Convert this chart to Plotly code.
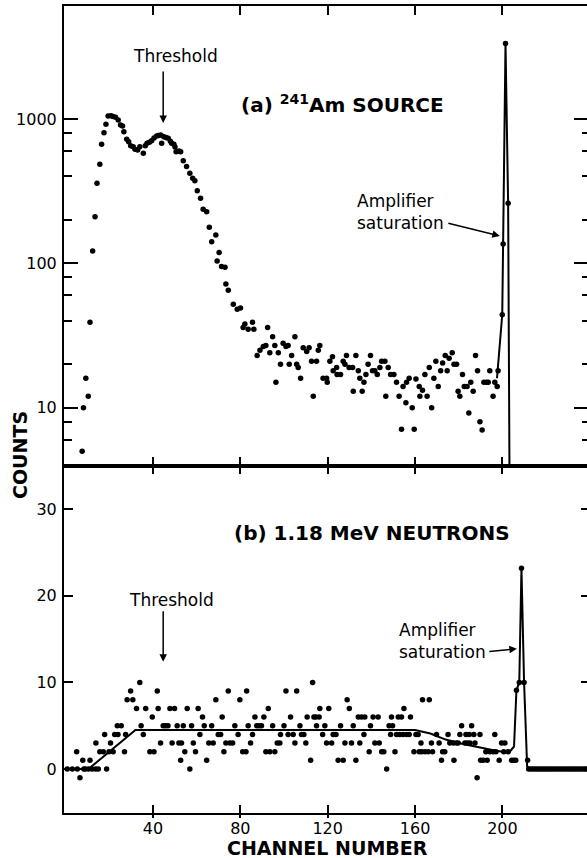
import plotly.graph_objects as go

FONT = "DejaVu Sans"

# ---------------- (a) 241Am source : channel number vs counts (log) ----------------
am_channel = [7.6, 8.2, 9.3, 10.4, 11.2, 12.4, 13.5, 14.4, 15.7, 16.5, 17.6, 18.5, 19.5, 20.8,
              21.8, 22.9, 24.1, 25.2, 26.1, 26.7, 28.0, 28.9, 29.8, 31.0, 31.8, 33.0, 34.0,
              35.6, 36.5, 37.3, 38.4, 39.4, 40.5, 41.7, 42.6, 43.6, 44.0, 45.0, 46.0, 47.0,
              48.0, 48.6, 49.6, 50.1, 50.6, 52.0, 52.7, 53.9, 55.4, 56.9, 58.2, 59.2, 60.3,
              61.8, 63.0, 64.6, 65.8, 66.9, 68.8, 69.4, 70.3, 71.4, 73.0, 73.4, 74.5, 76.8,
              78.6, 80.1, 81.3, 82.1, 83.6, 85.6, 86.2, 87.7, 89.0, 90.5, 91.7, 92.5, 93.5,
              94.8, 95.8, 96.3, 97.4, 98.4, 99.6, 100.9, 101.9, 102.4, 103.5, 105.0, 105.8,
              106.5, 107.6, 108.8, 110.4, 111.5, 112.6, 113.4, 114.9, 115.7, 116.4, 117.9,
              119.5, 119.8, 121.0, 122.2, 122.5, 124.1, 124.3, 125.9, 127.1, 127.9, 128.6,
              129.8, 131.4, 131.7, 132.9, 134.0, 134.7, 135.8, 136.6, 137.5, 138.5, 139.6,
              140.5, 141.6, 142.7, 143.9, 144.7, 146.2, 146.6, 147.7, 148.8, 150.3, 151.5,
              152.7, 153.8, 154.5, 155.8, 156.1, 157.3, 158.7, 159.6, 160.4, 161.9, 162.2,
              163.4, 164.5, 165.5, 166.5, 167.6, 168.6, 169.5, 170.6, 171.7, 172.6, 173.8,
              174.7, 175.6, 177.0, 177.8, 179.0, 179.7, 180.5, 181.7, 182.5, 183.8, 184.6,
              185.5, 186.6, 187.7, 188.6, 189.7, 190.7, 191.5, 192.7, 193.5, 194.2, 195.7,
              196.5, 197.6, 198.0, 199.9, 200.3, 201.4, 202.6]
am_counts = [5, 10, 16, 12, 39, 122, 210, 359, 485, 668, 804, 919, 1050, 1055,
             1040, 1027, 984, 909, 895, 817, 723, 697, 653, 643, 617, 610, 643,
             579, 653, 680, 690, 708, 740, 763, 770, 775, 680, 754, 745, 735,
             700, 680, 668, 640, 594, 600, 594, 514, 468, 421, 388, 374, 318,
             282, 237, 228, 178, 141, 157, 104, 119, 95, 94, 72, 65, 52,
             48, 49, 36, 38, 35, 39, 35, 23, 25, 26.5, 27, 36, 24,
             31, 27, 15, 24, 20, 28, 26.5, 27, 20, 23, 31, 20,
             19, 16, 26, 24.5, 26, 21, 12, 21, 25, 27, 16,
             16, 15, 21, 22.5, 18, 19, 17, 17, 21, 20, 23,
             19, 19, 13, 23, 18, 16, 13, 15, 17, 20, 23,
             18, 18, 17, 19, 21, 21, 12, 19, 17, 17, 15,
             12, 7.1, 14, 10.8, 15, 16, 10, 7.1, 15.8, 14, 12,
             13.2, 17, 12, 19, 10, 16, 21, 14, 18, 20.4, 23,
             18, 22, 24, 20, 20, 13, 12, 17, 14, 14, 9.2,
             15, 13, 23, 18, 8.0, 7.0, 15, 15, 15, 18, 12,
             15, 14, 18, 44, 136, 3340, 261]

# amplifier saturation trace (drawn line)
am_sat_channel = [197.5, 199.9, 200.3, 201.4, 202.6, 203.4]
am_sat_counts = [16, 44, 136, 3340, 261, 1]

# ---------------- (b) 1.18 MeV neutrons : channel number vs counts ----------------
n_channel = [0.8, 3.1, 5.1, 5.4, 6.6, 7.9, 8.4, 9.1, 10.6, 11.2, 12.2, 13.8, 13.9, 15.0,
             15.7, 17.3, 17.9, 18.8, 19.9, 20.6, 21.8, 22.5, 23.7, 24.0, 25.5, 27.0, 27.5,
             28.2, 29.8, 30.8, 32.5, 34.0, 34.6, 35.6, 36.7, 38.6, 39.7, 40.5, 42.0, 42.4,
             43.5, 44.7, 45.8, 46.9, 47.8, 48.8, 49.9, 51.1, 51.9, 52.7,
             53.1, 53.9, 54.6, 55.7, 56.9, 57.7, 58.5, 59.5, 60.7, 61.5, 62.7, 63.5, 64.6,
             65.6, 66.9, 67.6, 68.8, 69.9, 71.0, 71.7, 72.5, 73.4, 74.5, 75.2, 76.5, 77.5,
             79.0, 79.8, 81.1, 82.6, 82.9, 83.6, 84.7, 85.6, 86.7, 87.5, 88.6, 89.7, 90.8,
             91.7, 92.8, 93.5, 94.8, 95.8, 96.9, 98.1, 98.4, 100.0, 100.9, 101.9, 103.0,
             104.2, 105.0, 105.8, 107.3, 108.0, 109.1, 110.0, 110.6, 112.2, 113.1, 113.7,
             114.6, 114.9, 116.1, 116.4, 117.7, 118.7, 119.5, 120.5, 121.8, 122.5, 123.8,
             124.8, 125.9, 127.1, 127.9, 128.9, 129.9, 130.9, 131.7, 132.9, 134.0, 134.7,
             135.5, 136.6, 137.0, 139.0, 139.6, 140.8, 141.6, 143.1,
             143.6, 144.7, 145.7, 147.0, 148.1, 148.8, 149.2, 149.7, 150.8, 151.5, 152.3,
             153.0, 153.8, 154.5, 154.9, 156.1, 157.3, 157.9, 159.5, 160.4, 161.4, 161.9,
             162.7, 163.0, 163.4, 164.5, 166.0, 166.5, 167.5, 168.0, 169.8, 171.0, 172.1,
             172.6, 173.6, 175.1, 175.9, 177.5, 177.8, 179.0, 179.7, 180.5, 181.3, 182.8,
             183.3, 183.9, 184.8, 185.1, 185.9, 186.9, 187.4, 188.4, 189.7, 190.0, 191.2,
             192.4, 193.0, 194.2, 195.7, 196.5, 197.0, 198.5, 199.6, 200.6, 201.1, 202.6,
             204.2, 205.2, 206.1, 206.4, 207.7, 208.7, 209.9, 211.5,
             212, 213, 214, 215, 216, 217, 218, 219, 220, 221, 222, 223, 224, 225,
             226, 227, 228, 229, 230, 231, 232, 233, 234, 235, 236, 237, 238, 239]
n_counts = [0, 0, 2, 0, -1, 1, 0, 0, 0, 1, 0, 0, 3, 0,
            2, 2, 4, 0, 2, 3, 2, 4, 5, 4, 5, 2, 4,
            8, 9, 8, 7, 10, 5, 4, 7, 2, 6, 2, 9, 7,
            3, 5, 5, 5, 7, 3, 7, 5, 3, 1,
            3, 5, 2, 7, 0, 5, 3, 2, 7, 4, 6, 5, 1,
            3, 5, 3, 8, 4, 4, 6, 2, 3, 9, 3, 3, 5,
            4, 8, 2, 2, 9, 5, 3, 4, 6, 5, 5, 5, 6,
            2, 7, 2, 5, 2, 3, 3, 4, 5, 9, 4, 6,
            4, 3, 9, 5, 4, 4, 3, 6, 1, 10, 6,
            6, 5, 6, 7, 4, 5, 3, 7, 3, 4, 4,
            1, 5, 1, 3, 8, 7, 3, 5, 1, 6, 3,
            6, 4, 6, 2, 5, 6, 3, 6,
            3, 2, 2, 0, 5, 4, 6, 5, 2, 4, 6,
            4, 6, 4, 7, 4, 4, 6, 2, 4, 4, 2,
            3, 2, 8, 2, 2, 8, 3, 2, 4, 3, 1,
            2, 2, 4, 3, 3, 1, 3, 3, 4, 5, 3,
            4, 3, 4, 3, 5, 4, 3, -1, 4, 1, 1,
            2, 1, 2, 2, 4, 2, 1, 3, 2, 3, 2,
            1, 1, 1, 9.1, 10, 23.2, 10, 1,
            0, 0, 0, 0, 0, 0, 0, 0, 0, 0, 0, 0, 0, 0,
            0, 0, 0, 0, 0, 0, 0, 0, 0, 0, 0, 0, 0, 0]

# hand-drawn smooth curve through the neutron spectrum
fit_channel = [0, 10.5, 32, 160, 167, 174, 182, 190, 197, 203, 205.3, 206.4, 207.7, 208.7,
               209.9, 211.3, 213, 239]
fit_counts = [0, 0, 4.5, 4.5, 4.1, 3.4, 2.9, 2.45, 2.1, 1.9, 2.6, 9.1, 10, 23.2,
              10, 0.3, 0, 0]

x_ticks = [40, 80, 120, 160, 200]
top_major = [10, 100, 1000]
top_minor = [6, 8, 20, 40, 60, 80, 200, 400, 600, 800]
bot_ticks = [0, 10, 20, 30]

fig = go.Figure()

dot = dict(color="black", size=5.5)
fig.add_trace(go.Scatter(x=am_sat_channel, y=am_sat_counts, mode="lines",
                         line=dict(color="black", width=2), xaxis="x2", yaxis="y2"))
fig.add_trace(go.Scatter(x=am_channel, y=am_counts, mode="markers", marker=dot,
                         xaxis="x2", yaxis="y2"))
fig.add_trace(go.Scatter(x=fit_channel, y=fit_counts, mode="lines",
                         line=dict(color="black", width=2), xaxis="x", yaxis="y"))
fig.add_trace(go.Scatter(x=n_channel, y=n_counts, mode="markers", marker=dot,
                         xaxis="x", yaxis="y"))
# helper empty traces so the overlay tick axes exist
fig.add_trace(go.Scatter(x=[], y=[], xaxis="x3", yaxis="y"))
fig.add_trace(go.Scatter(x=[], y=[], xaxis="x", yaxis="y3"))
fig.add_trace(go.Scatter(x=[], y=[], xaxis="x2", yaxis="y4"))

XR = [-0.7, 238.7]
TOPR = [0.596, 3.783]
BOTR = [-5.08, 35]
SPLIT = 0.43
tickfont = dict(family=FONT, size=16, color="black")
common = dict(showgrid=False, zeroline=False, tickcolor="black", tickwidth=2,
              linecolor="black", linewidth=2)

fig.update_layout(
    width=587, height=858,
    margin=dict(l=64, r=0, t=6, b=45),
    plot_bgcolor="white", paper_bgcolor="white",
    showlegend=False,
    font=dict(family=FONT, color="black"),
    xaxis=dict(domain=[0, 1], anchor="y", range=XR, tickmode="array", tickvals=x_ticks,
               ticks="inside", ticklen=8, showline=True, mirror="ticks",
               tickfont=tickfont, **common),
    xaxis2=dict(domain=[0, 1], anchor="y2", matches="x", tickmode="array", tickvals=x_ticks,
                ticks="inside", ticklen=9, showline=True, mirror="ticks",
                showticklabels=False, **common),
    xaxis3=dict(overlaying="x", anchor="y", matches="x", tickmode="array", tickvals=x_ticks,
                ticks="outside", ticklen=4, showline=False, showticklabels=False, **common),
    yaxis=dict(domain=[0, SPLIT], anchor="x", range=BOTR, tickmode="array", tickvals=bot_ticks,
               ticks="inside", ticklen=9, showline=True, tickfont=tickfont,
               ticklabelstandoff=2, **common),
    yaxis2=dict(domain=[SPLIT, 1], anchor="x2", type="log", range=TOPR, tickmode="array",
                tickvals=top_major, ticktext=[str(v) for v in top_major],
                ticks="inside", ticklen=14, showline=True, tickfont=tickfont,
                ticklabelstandoff=2,
                minor=dict(tickmode="array", tickvals=top_minor, ticks="inside", ticklen=8,
                           tickwidth=1.5, tickcolor="black", showgrid=False),
                **common),
    yaxis3=dict(overlaying="y", anchor="x", side="right", range=BOTR, tickmode="array",
                tickvals=bot_ticks, ticks="inside", ticklen=6, showline=False,
                showticklabels=False, **common),
    yaxis4=dict(overlaying="y2", anchor="x2", side="right", type="log", range=TOPR,
                tickmode="array", tickvals=top_major, ticks="inside", ticklen=13,
                showline=False, showticklabels=False,
                minor=dict(tickmode="array", tickvals=top_minor, ticks="inside", ticklen=5,
                           tickwidth=1.5, tickcolor="black", showgrid=False),
                **common),
)

def px_x(X):
    return (X - 64) / 523.0

def px_y(Y):
    return (813 - Y) / 807.0

label = dict(family=FONT, size=20, color="black")
small = dict(family=FONT, size=17, color="black")
ann = [
    dict(text="<b>(a) <sup>241</sup>Am SOURCE</b>", x=px_x(342), y=px_y(104), font=label),
    dict(text="<b>(b) 1.18 MeV NEUTRONS</b>", x=px_x(372), y=px_y(533), font=label),
    dict(text="Threshold", x=px_x(175.5), y=px_y(56), font=small),
    dict(text="Threshold", x=px_x(171), y=px_y(600), font=small),
    dict(text="Amplifier<br>saturation", x=px_x(355), y=px_y(211.5), font=small,
         xanchor="left", align="left"),
    dict(text="Amplifier<br>saturation", x=px_x(397), y=px_y(640.5), font=small,
         xanchor="left", align="left"),
    dict(text="<b>COUNTS</b>", x=px_x(20), y=px_y(455), font=dict(family=FONT, size=19, color="black"),
         textangle=-90),
    dict(text="<b>CHANNEL NUMBER</b>", x=px_x(327), y=px_y(848),
         font=dict(family=FONT, size=19, color="black")),
]
for a in ann:
    base = dict(xref="paper", yref="paper", showarrow=False, xanchor="center", yanchor="middle")
    base.update(a)
    fig.add_annotation(**base)

arrow = dict(text="", showarrow=True, arrowhead=2, arrowsize=1, arrowwidth=1.5,
             arrowcolor="black", axref="pixel", ayref="pixel")
# threshold arrows
fig.add_annotation(x=44.7, y=2.972, xref="x2", yref="y2", ax=0, ay=-53, **arrow)
fig.add_annotation(x=44.7, y=12.4, xref="x", yref="y", ax=0, ay=-52, **arrow)
# amplifier saturation leaders
fig.add_annotation(x=198.8, y=2.19, xref="x2", yref="y2", ax=-53, ay=-13, **arrow)
fig.add_annotation(x=206.6, y=13.9, xref="x", yref="y", ax=-29, ay=3, **arrow)

fig.write_html("out.html")
